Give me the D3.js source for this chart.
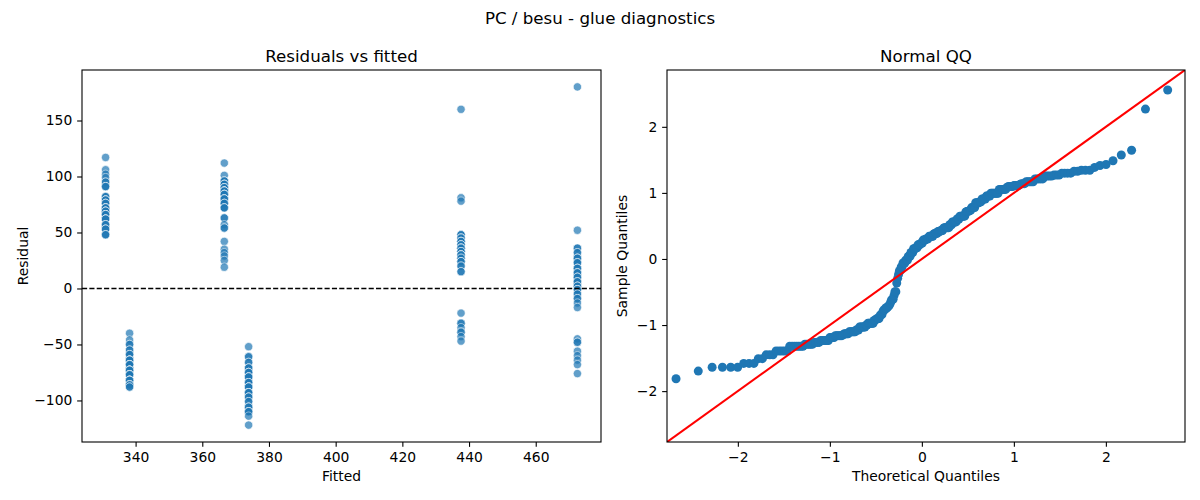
<!DOCTYPE html>
<html>
<head>
<meta charset="utf-8">
<script src="https://cdn.jsdelivr.net/npm/d3@7"></script>
<style>
  body { margin: 0; background: #fff; }
  text { font-family: "DejaVu Sans", sans-serif; fill: #000; }
</style>
</head>
<body>
<svg id="chart"></svg>
<script>
// fitted value of each configuration
const fitted = [331.0, 338.2, 366.6, 373.9, 437.6, 472.5];

// residuals per fitted group (repeats from the QQ density)
const res331 = [117, 106, 102, 99, 95, 95, 91, 91, 91, 82, 82, 82, 79, 79, 79, 79, 76, 76, 76,
  72, 72, 72, 72, 69, 69, 69, 69, 66, 66, 66, 66, 62, 62, 62, 62, 57, 57, 57, 53, 53, 53, 48, 48, 48];
const res338 = [-40, -46, -50, -50, -55, -55, -59, -59, -59, -64, -64, -64, -64, -64, -68, -68, -68, -68,
  -68, -73, -73, -73, -73, -73, -73, -77, -77, -77, -77, -77, -77, -82, -82, -82, -82, -82, -82,
  -86, -86, -86, -86, -86, -88, -88];
const res366 = [112, 101, 96, 96, 96, 93, 93, 93, 93, 90, 90, 90, 90, 87, 87, 87, 87, 87, 84, 84, 84, 84,
  84, 80, 80, 80, 80, 76, 76, 76, 72, 72, 72, 63, 63, 57, 54, 54, 42, 35, 32, 29, 25, 19];
const res374 = [-52, -61, -61, -66, -66, -71, -71, -71, -75, -75, -75, -75, -79, -79, -79, -79, -84, -84,
  -84, -84, -88, -88, -88, -88, -88, -93, -93, -93, -93, -93, -97, -97, -97, -101, -101, -106, -106,
  -106, -110, -110, -110, -110, -114, -122];
const res437 = [160, 81, 78, 48, 48, 48, 45, 45, 45, 42, 42, 42, 42, 39, 39, 39, 36, 36, 36, 36, 33, 33,
  33, 30, 30, 30, 30, 27, 27, 24, 24, 24, 20, 20, 15, 15, -22, -31, -31, -35, -39, -39, -43, -47];
const res473 = [180, 52, 36, 36, 32, 32, 27, 27, 27, 23, 23, 23, 18, 18, 18, 14, 14, 14, 10, 10, 10, 6, 6,
  6, 2, 2, 2, -1, -1, -1, -5, -5, -9, -9, -13, -17, -45, -48, -48, -56, -60, -64, -68, -76];

// tick labels
const fittedTicks = [340, 360, 380, 400, 420, 440, 460];
const residTicks = [-100, -50, 0, 50, 100, 150];
const qqTicks = [-2, -1, 0, 1, 2];
const qqLimits = [-2.77, 2.86];

const width = 1200, height = 500;
const leftBox = { x: 82, y: 70, w: 519, h: 372 };
const rightBox = { x: 667, y: 70, w: 518, h: 372 };
const blue = "#1f77b4";
const tickLen = 4.86;

const svg = d3.select("#chart").attr("width", width).attr("height", height);

svg.append("text")
  .attr("x", width / 2)
  .attr("y", 24)
  .attr("text-anchor", "middle")
  .style("font-size", "16.67px")
  .text("PC / besu - glue diagnostics");

const defs = svg.append("defs");

// inverse normal cdf (Acklam), used for the theoretical quantiles
function normInv(p) {
  const a = [-3.969683028665376e+01, 2.209460984245205e+02, -2.759285104469687e+02,
    1.383577518672690e+02, -3.066479806614716e+01, 2.506628277459239e+00];
  const b = [-5.447609879822406e+01, 1.615858368580409e+02, -1.556989798598866e+02,
    6.680131188771972e+01, -1.328068155288572e+01];
  const c = [-7.784894002430293e-03, -3.223964580411365e-01, -2.400758277161838e+00,
    -2.549732539343734e+00, 4.374664141464968e+00, 2.938163982698783e+00];
  const d = [7.784695709041462e-03, 3.224671290700398e-01, 2.445134137142996e+00,
    3.754408661907416e+00];
  const plow = 0.02425;
  let q, r;
  if (p < plow) {
    q = Math.sqrt(-2 * Math.log(p));
    return (((((c[0] * q + c[1]) * q + c[2]) * q + c[3]) * q + c[4]) * q + c[5]) /
      ((((d[0] * q + d[1]) * q + d[2]) * q + d[3]) * q + 1);
  }
  if (p <= 1 - plow) {
    q = p - 0.5;
    r = q * q;
    return (((((a[0] * r + a[1]) * r + a[2]) * r + a[3]) * r + a[4]) * r + a[5]) * q /
      (((((b[0] * r + b[1]) * r + b[2]) * r + b[3]) * r + b[4]) * r + 1);
  }
  q = Math.sqrt(-2 * Math.log(1 - p));
  return -(((((c[0] * q + c[1]) * q + c[2]) * q + c[3]) * q + c[4]) * q + c[5]) /
    ((((d[0] * q + d[1]) * q + d[2]) * q + d[3]) * q + 1);
}

function padded(ext) {
  const pad = (ext[1] - ext[0]) * 0.05;
  return [ext[0] - pad, ext[1] + pad];
}

function panel(box, id, title, xLabel, yLabel, yLabelX) {
  const g = svg.append("g").attr("transform", `translate(${box.x},${box.y})`);
  defs.append("clipPath").attr("id", id)
    .append("rect").attr("width", box.w).attr("height", box.h);
  const plot = g.append("g").attr("clip-path", `url(#${id})`);

  svg.append("text")
    .attr("x", box.x + box.w / 2)
    .attr("y", box.y - 8.3)
    .attr("text-anchor", "middle")
    .style("font-size", "16.67px")
    .text(title);

  svg.append("text")
    .attr("x", box.x + box.w / 2)
    .attr("y", 481)
    .attr("text-anchor", "middle")
    .style("font-size", "13.89px")
    .text(xLabel);

  svg.append("text")
    .attr("transform", `translate(${yLabelX},${box.y + box.h / 2}) rotate(-90)`)
    .attr("text-anchor", "middle")
    .style("font-size", "13.89px")
    .text(yLabel);

  return { g, plot };
}

function drawAxes(g, box, x, y, xTicks, yTicks) {
  const fmt = d3.format("d");
  const xAxis = g.append("g")
    .attr("transform", `translate(0,${box.h})`)
    .call(d3.axisBottom(x).tickValues(xTicks).tickFormat(fmt)
      .tickSizeOuter(0).tickSize(tickLen).tickPadding(tickLen));
  const yAxis = g.append("g")
    .call(d3.axisLeft(y).tickValues(yTicks).tickFormat(fmt)
      .tickSizeOuter(0).tickSize(tickLen).tickPadding(tickLen));
  [xAxis, yAxis].forEach((ax) => {
    ax.select(".domain").remove();
    ax.selectAll("line").attr("stroke", "#000").attr("stroke-width", 1.1);
    ax.selectAll("text").style("font-size", "13.89px").style("font-family", "DejaVu Sans");
  });
  g.append("rect")
    .attr("width", box.w)
    .attr("height", box.h)
    .attr("fill", "none")
    .attr("stroke", "#000")
    .attr("stroke-width", 1.1);
}

// ---- Residuals vs fitted ----
const groups = [res331, res338, res366, res374, res437, res473]
  .map((res, i) => res.map((r) => ({ fitted: fitted[i], resid: r })));
const points = groups.flat();

const left = panel(leftBox, "clip-left", "Residuals vs fitted", "Fitted", "Residual", 28);

const xFit = d3.scaleLinear()
  .domain(padded(d3.extent(points, (d) => d.fitted)))
  .range([0, leftBox.w]);
const yRes = d3.scaleLinear()
  .domain(padded(d3.extent(points, (d) => d.resid)))
  .range([leftBox.h, 0]);

left.plot.selectAll("circle")
  .data(points)
  .join("circle")
  .attr("cx", (d) => xFit(d.fitted))
  .attr("cy", (d) => yRes(d.resid))
  .attr("r", 4.17)
  .attr("fill", blue)
  .attr("stroke", "#fff")
  .attr("stroke-width", 0.67)
  .attr("opacity", 0.7);

left.plot.append("line")
  .attr("x1", 0)
  .attr("x2", leftBox.w)
  .attr("y1", yRes(0))
  .attr("y2", yRes(0))
  .attr("stroke", "#000")
  .attr("stroke-width", 1.39)
  .attr("stroke-dasharray", "5.13,2.22");

drawAxes(left.g, leftBox, xFit, yRes, fittedTicks, residTicks);

// ---- Normal QQ ----
const resid = points.map((d) => d.resid);
const n = resid.length;
const mean = d3.mean(resid);
const sd = Math.sqrt(d3.mean(resid, (r) => (r - mean) ** 2));
const qq = resid
  .map((r) => (r - mean) / sd)
  .sort(d3.ascending)
  .map((s, i) => ({ theo: normInv((i + 1) / (n + 1)), sample: s }));

const right = panel(rightBox, "clip-right", "Normal QQ", "Theoretical Quantiles", "Sample Quantiles", 627);

const xQ = d3.scaleLinear().domain(qqLimits).range([0, rightBox.w]);
const yQ = d3.scaleLinear().domain(qqLimits).range([rightBox.h, 0]);

right.plot.selectAll("circle")
  .data(qq)
  .join("circle")
  .attr("cx", (d) => xQ(d.theo))
  .attr("cy", (d) => yQ(d.sample))
  .attr("r", 4.5)
  .attr("fill", blue);

right.plot.append("line")
  .attr("x1", xQ(qqLimits[0]))
  .attr("y1", yQ(qqLimits[0]))
  .attr("x2", xQ(qqLimits[1]))
  .attr("y2", yQ(qqLimits[1]))
  .attr("stroke", "#ff0000")
  .attr("stroke-width", 2.08);

drawAxes(right.g, rightBox, xQ, yQ, qqTicks, qqTicks);
</script>
</body>
</html>
